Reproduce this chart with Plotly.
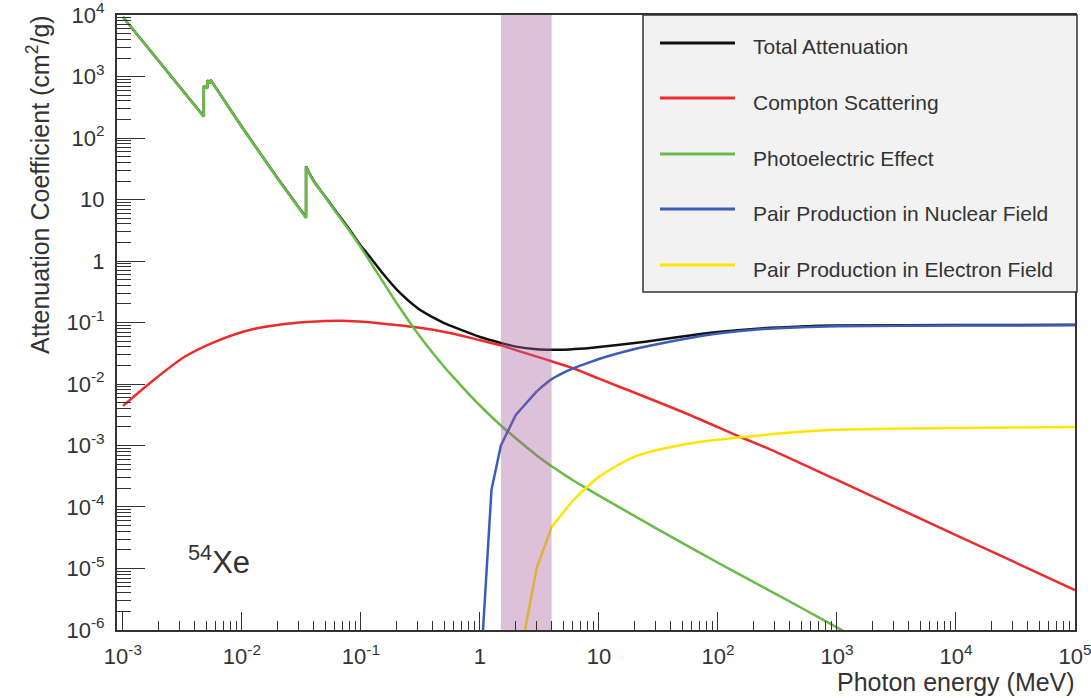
import plotly.graph_objects as go

# ---- photon attenuation components for xenon (cm^2/g) vs photon energy (MeV) ----
E_photo = [0.001, 0.002, 0.004782, 0.004782, 0.005107, 0.005107, 0.005453, 0.005453,
           0.01, 0.02, 0.03456, 0.03456, 0.04, 0.05, 0.06, 0.08, 0.1, 0.15, 0.2, 0.3,
           0.4, 0.5, 0.6, 0.8, 1.0, 1.5, 2, 3, 4, 5, 6, 8, 10, 20, 50, 100, 200, 500,
           1000, 2000]
mu_photo = [9300, 1760, 222, 700, 640, 860, 780, 880,
            150, 21.7, 5.0, 34.1, 20.0, 11.0, 6.7, 3.1, 1.65, 0.489, 0.206, 0.0662,
            0.0322, 0.0191, 0.0128, 7.0e-3, 4.47e-3, 2.11e-3, 1.31e-3, 6.9e-4, 4.6e-4,
            3.45e-4, 2.75e-4, 1.97e-4, 1.53e-4, 7.1e-5, 2.6e-5, 1.24e-5, 6.0e-6, 2.3e-6,
            1.1e-6, 5.3e-7]

E_compton = [0.001, 0.0017, 0.0033, 0.006, 0.012, 0.022, 0.035, 0.05, 0.07, 0.11, 0.17,
             0.27, 0.56, 1.0, 1.5, 2, 3, 4, 6, 10, 20, 58, 150, 280, 1000, 1e4, 1e5]
mu_compton = [0.0044, 0.0105, 0.0277, 0.049, 0.077, 0.094, 0.102, 0.106, 0.107, 0.102,
              0.094, 0.085, 0.0675, 0.0515, 0.0425, 0.0356, 0.0279, 0.0234, 0.0182,
              0.0122, 0.0072, 3.13e-3, 1.40e-3, 8.5e-4, 2.75e-4, 3.5e-5, 4.45e-6]

E_pair_nuc = [1.022, 1.25, 1.5, 2, 3, 4, 5, 6, 8, 10, 20, 30, 58, 100, 213, 500, 1000,
              1e4, 1e5]
mu_pair_nuc = [3e-7, 1.9e-4, 1.0e-3, 3.15e-3, 7.6e-3, 0.0120, 0.0152, 0.0178, 0.0218,
               0.0255, 0.0370, 0.0440, 0.0560, 0.0660, 0.0770, 0.0840, 0.0870, 0.0890,
               0.0898]

E_pair_el = [2.044, 3, 4, 5, 6, 8, 10, 20, 50, 100, 200, 500, 1000, 1e4, 1e5]
mu_pair_el = [2e-7, 1.02e-5, 4.7e-5, 8.1e-5, 1.24e-4, 2.14e-4, 3.09e-4, 6.6e-4, 1.03e-3,
              1.24e-3, 1.43e-3, 1.67e-3, 1.8e-3, 1.93e-3, 2.0e-3]

E_total = [0.001, 0.002, 0.004782, 0.004782, 0.005107, 0.005107, 0.005453, 0.005453,
           0.01, 0.02, 0.03456, 0.03456, 0.04, 0.05, 0.06, 0.08, 0.1, 0.112, 0.15, 0.2,
           0.3, 0.4, 0.5, 0.6, 0.8, 1.0, 1.5, 2, 3, 4, 5, 6, 8, 10, 20, 30, 58, 100,
           213, 500, 1000, 1e4, 1e5]
mu_total = [9300, 1765, 224, 702, 643, 863, 783, 883,
            151, 22.0, 5.1, 34.3, 20.2, 11.2, 6.9, 3.25, 1.75, 1.35, 0.654, 0.343,
            0.171, 0.122, 0.098, 0.0848, 0.0685, 0.0582, 0.0465, 0.0405, 0.0366, 0.036,
            0.0362, 0.0368, 0.038, 0.040, 0.0465, 0.0515, 0.0615, 0.070, 0.0795, 0.0862,
            0.0891, 0.091, 0.0918]

# split points: straight segments up to these indices (absorption edges,
# pair thresholds), smooth spline afterwards
K_EDGE_IDX = 11
NUC_SPLIT_IDX = 4
EL_SPLIT_IDX = 2

# highlighted energy window (MeV)
band_E = [1.5, 4.0]

series_names = ["Total Attenuation", "Compton Scattering", "Photoelectric Effect",
                "Pair Production in Nuclear Field", "Pair Production in Electron Field"]
series_colors = ["#111111", "#ee2c2c", "#68bc48", "#3a5db8", "#ffe500"]

x_tickvals = [1e-3, 1e-2, 1e-1, 1, 10, 1e2, 1e3, 1e4, 1e5]
x_ticktext = ["10<sup>-3</sup>", "10<sup>-2</sup>", "10<sup>-1</sup>", "1", "10",
              "10<sup>2</sup>", "10<sup>3</sup>", "10<sup>4</sup>", "10<sup>5</sup>"]
y_tickvals = [1e-6, 1e-5, 1e-4, 1e-3, 1e-2, 1e-1, 1, 10, 1e2, 1e3, 1e4]
y_ticktext = ["10<sup>-6</sup>", "10<sup>-5</sup>", "10<sup>-4</sup>", "10<sup>-3</sup>",
              "10<sup>-2</sup>", "10<sup>-1</sup>", "1", "10", "10<sup>2</sup>",
              "10<sup>3</sup>", "10<sup>4</sup>"]

FONT = "Liberation Sans, Arial, Helvetica, sans-serif"
INK = "#333333"

# ---- figure geometry (pixels) ----
W, H = 1091, 698
ML, MR, MT, MB = 117, 16, 15, 68
PW, PH = W - ML - MR, H - MT - MB


def px_x(p):
    return (p - ML) / PW


def px_y(p):
    return 1 - (p - MT) / PH


fig = go.Figure()


def add_curve(xs, ys, name, col, shape):
    fig.add_trace(go.Scatter(x=xs, y=ys, mode="lines", name=name,
                             line=dict(color=col, width=2.5, shape=shape, smoothing=0.8),
                             showlegend=False, hoverinfo="x+y+name"))


def add_split_curve(xs, ys, split, name, col):
    add_curve(xs[:split + 1], ys[:split + 1], name, col, "linear")
    add_curve(xs[split:], ys[split:], name, col, "spline")


add_split_curve(E_total, mu_total, K_EDGE_IDX, series_names[0], series_colors[0])
add_curve(E_compton, mu_compton, series_names[1], series_colors[1], "spline")
add_split_curve(E_photo, mu_photo, K_EDGE_IDX, series_names[2], series_colors[2])
add_split_curve(E_pair_nuc, mu_pair_nuc, NUC_SPLIT_IDX, series_names[3], series_colors[3])
add_split_curve(E_pair_el, mu_pair_el, EL_SPLIT_IDX, series_names[4], series_colors[4])

# translucent band drawn over the curves
fig.add_trace(go.Scatter(x=[band_E[0], band_E[1], band_E[1], band_E[0], band_E[0]],
                         y=[1e-6, 1e-6, 1e4, 1e4, 1e-6], mode="lines", fill="toself",
                         fillcolor="rgba(165,92,152,0.38)", line=dict(width=0),
                         showlegend=False, hoverinfo="skip"))

x_minor = [m * 10.0 ** k for k in range(-3, 5) for m in range(2, 10)]
y_minor = [m * 10.0 ** k for k in range(-6, 4) for m in range(2, 10)]

fig.update_xaxes(type="log", range=[-3.05, 5.0004], showline=True, linecolor=INK,
                 linewidth=2, mirror=True, showgrid=False, zeroline=False,
                 automargin=False,
                 ticks="inside", ticklen=18, tickwidth=1.3, tickcolor=INK,
                 tickmode="array", tickvals=x_tickvals, ticktext=x_ticktext,
                 tickfont=dict(family=FONT, size=22, color=INK), ticklabelstandoff=6,
                 ticklabeloverflow="allow",
                 minor=dict(tickmode="array", tickvals=x_minor, ticks="inside",
                            ticklen=9, tickwidth=1.3, tickcolor=INK, showgrid=False))
fig.update_yaxes(type="log", range=[-6.0004, 4.0004], showline=True, linecolor=INK,
                 linewidth=2, mirror=True, showgrid=False, zeroline=False,
                 automargin=False,
                 ticks="inside", ticklen=28, tickwidth=1.3, tickcolor=INK,
                 tickmode="array", tickvals=y_tickvals, ticktext=y_ticktext,
                 tickfont=dict(family=FONT, size=22, color=INK), ticklabelstandoff=6,
                 ticklabeloverflow="allow",
                 minor=dict(tickmode="array", tickvals=y_minor, ticks="inside",
                            ticklen=14, tickwidth=1.3, tickcolor=INK, showgrid=False))

shapes = []
annotations = []

# legend box
shapes.append(dict(type="rect", xref="paper", yref="paper",
                   x0=px_x(643), x1=px_x(1077), y0=px_y(292), y1=px_y(15),
                   fillcolor="#f2f2f2", line=dict(color=INK, width=1.5), layer="above"))
row_y = [43, 98, 154, 209, 265]
for ry, name, col in zip(row_y, series_names, series_colors):
    shapes.append(dict(type="line", xref="paper", yref="paper",
                       x0=px_x(660), x1=px_x(735), y0=px_y(ry), y1=px_y(ry),
                       line=dict(color=col, width=3), layer="above"))
    annotations.append(dict(text=name, xref="paper", yref="paper", x=px_x(751),
                            y=px_y(ry + 4), xanchor="left", yanchor="middle",
                            showarrow=False, font=dict(family=FONT, size=21, color=INK)))

# axis titles
annotations.append(dict(text="Attenuation Coefficient (cm<sup>2</sup>/g)", xref="paper",
                        yref="paper", x=px_x(38), y=px_y(185), textangle=-90,
                        xanchor="center", yanchor="middle", showarrow=False,
                        font=dict(family=FONT, size=25, color=INK)))
annotations.append(dict(text="Photon energy (MeV)", xref="paper", yref="paper",
                        x=px_x(1077), y=px_y(682), xanchor="right", yanchor="middle",
                        showarrow=False, font=dict(family=FONT, size=25, color=INK)))

# element label
annotations.append(dict(text="<sup>54</sup>Xe", xref="paper", yref="paper",
                        x=px_x(186), y=px_y(560), xanchor="left", yanchor="middle",
                        showarrow=False, font=dict(family=FONT, size=31, color=INK)))

fig.update_layout(width=W, height=H, autosize=False,
                  margin=dict(l=ML, r=MR, t=MT, b=MB, pad=0),
                  paper_bgcolor="white", plot_bgcolor="white",
                  showlegend=False, shapes=shapes, annotations=annotations)

fig.write_html("out.html")
